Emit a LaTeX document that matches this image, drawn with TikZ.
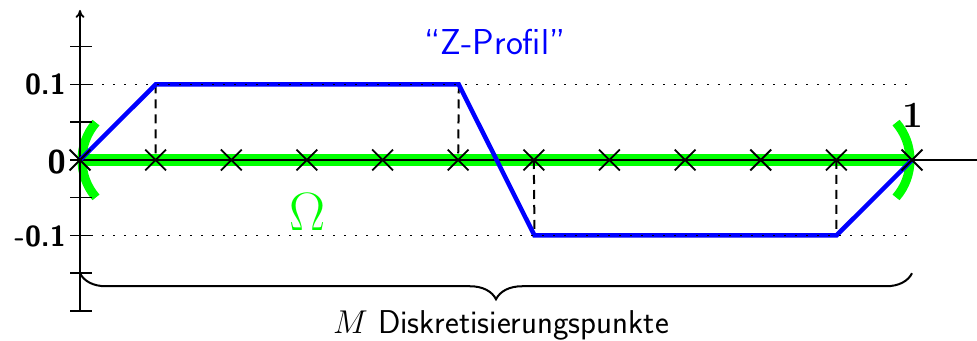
\RequirePackage{fix-cm}
\documentclass[tikz,border=0pt]{standalone}
\usepackage{fontspec}
\newfontfamily\ssbx{lmsans10-bold.otf}
\usetikzlibrary{shapes.misc,decorations.pathreplacing,arrows.meta}
\begin{document}
\begin{tikzpicture}[x=1pt,y=1pt,
  axisline/.style={line width=1.8pt},
  tickline/.style={line width=1.5pt},
  prof/.style={blue,line width=4.5pt,line join=miter},
  guide/.style={dash pattern=on 1.8pt off 9.2pt,line width=1.8pt},
  drop/.style={dash pattern=on 9pt off 6pt,line width=2pt},
  omegaline/.style={green,line width=12pt},
  bound/.style={green,line width=9pt},
  xmark/.style={draw,cross out,minimum size=19pt,inner sep=0pt,line width=1.8pt},
  ticklab/.style={font=\fontsize{29}{34}\selectfont\ssbx,anchor=east,inner sep=0pt}
]
\useasboundingbox (0,0) rectangle (977,340);
% key coordinates
\coordinate (o) at (80,180);
\coordinate (xend) at (977,180);
\coordinate (ybot) at (80,28);
\coordinate (ytop) at (80,330);
\foreach \i in {0,...,11} {
  \coordinate (p\i) at ({80+75.636*\i},180);
}
\coordinate (hi1) at (155.6,255.5);
\coordinate (hi2) at (458.8,255.5);
\coordinate (lo1) at (534.5,104.5);
\coordinate (lo2) at (836.4,104.5);
\coordinate (gl0) at (80,255.5);
\coordinate (gl1) at (912,255.5);
\coordinate (gm0) at (80,104.5);
\coordinate (gm1) at (912,104.5);
\coordinate (br0) at (80,66.75);
\coordinate (br1) at (912,66.75);
\coordinate (cl) at (139,180);
\coordinate (cr) at (853,180);

% green domain
\draw[omegaline] (p0) -- (p11);
\draw[bound] (cl) ++(139:57) arc[start angle=139,end angle=221,radius=57];
\draw[bound] (cr) ++(41:57) arc[start angle=41,end angle=-41,radius=57];

% axes
\draw[axisline] (o) -- (xend);
\draw[axisline,-{To[length=8pt,width=9pt]}] (ybot) -- (ytop);
\foreach \yy in {293.25,255.5,217.75,180,142.25,104.5,66.75,29} {
  \draw[tickline] (70,\yy) -- (92,\yy);
}

% dashed drops
\draw[drop] (hi1) -- (p1);
\draw[drop] (hi2) -- (p5);
\draw[drop] (p6) -- (lo1);
\draw[drop] (p10) -- (lo2);

% profile
\draw[prof] (p0) -- (hi1) -- (hi2) -- (lo1) -- (lo2) -- (p11);

% dotted guides
\draw[guide] (gl0) -- (gl1);
\draw[guide] (gm0) -- (gm1);

% crosses
\foreach \i in {0,...,11} {
  \node[xmark] (c\i) at (p\i) {};
}

% labels
\node[ticklab] (l1) at (66,255.5) {0.1};
\node[ticklab,font=\fontsize{33}{38}\selectfont\ssbx] (l0) at (66,178) {0};
\node[ticklab] (lm1) at (66,103.5) {-0.1};
\node[font=\fontsize{37}{42}\selectfont\bfseries,inner sep=0pt] (one) at (913,225) {1};
\node[green,font=\fontsize{54}{60}\selectfont,inner sep=0pt] (om) at (308,128) {$\Omega$};
\node[blue,font=\fontsize{36}{42}\selectfont\sffamily,inner sep=0pt] (zp) at (495,298) {``Z-Profil''};

% brace
\draw[line width=2pt,decorate,decoration={brace,mirror,amplitude=26pt}] (br0) -- (br1);
\node[font=\fontsize{33}{38}\selectfont\sffamily,anchor=base,inner sep=0pt] (mlab) at (501,7) {$M$ Diskretisierungspunkte};
\end{tikzpicture}
\end{document}
